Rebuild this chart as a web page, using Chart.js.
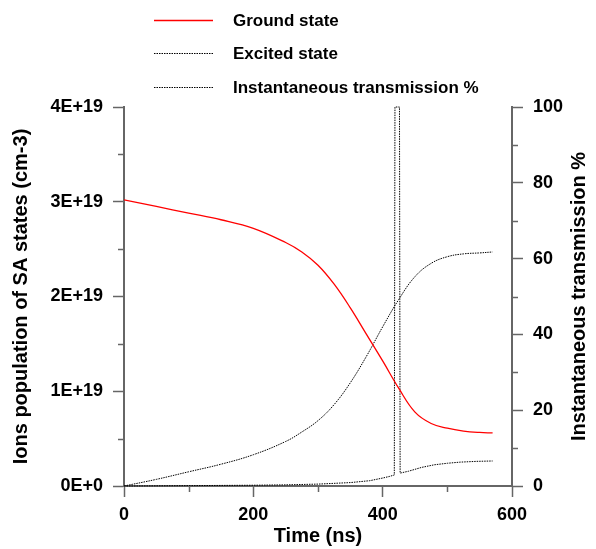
<!DOCTYPE html>
<html>
<head>
<meta charset="utf-8">
<script src="https://cdn.jsdelivr.net/npm/chart.js@4"></script>
<style>
html,body{margin:0;padding:0;background:#fff;}
#c{display:block;}
</style>
</head>
<body>
<canvas id="c" width="596" height="549"></canvas>
<script>
// ---- data ----
const timeNs = [0, 50, 100, 150, 200, 250, 275, 300, 325, 350, 375, 400, 425, 450, 475, 500, 525, 550, 570];
const groundState = [3.02e19, 2.95e19, 2.88e19, 2.81e19, 2.72e19, 2.57e19, 2.47e19, 2.33e19, 2.13e19, 1.88e19, 1.60e19, 1.32e19, 1.03e19, 0.78e19, 0.66e19, 0.61e19, 0.58e19, 0.565e19, 0.56e19];
const excitedState = [0, 0.07e19, 0.15e19, 0.23e19, 0.33e19, 0.47e19, 0.57e19, 0.69e19, 0.86e19, 1.09e19, 1.37e19, 1.68e19, 1.97e19, 2.21e19, 2.35e19, 2.42e19, 2.45e19, 2.46e19, 2.47e19];
const transTimeNs = [0, 100, 200, 250, 300, 350, 380, 400, 410, 418, 419, 426, 427, 440, 460, 480, 500, 520, 545, 570];
const transmission = [0, 0.1, 0.2, 0.3, 0.5, 0.9, 1.4, 2.1, 2.5, 2.9, 100, 100, 3.4, 3.9, 4.9, 5.6, 6.0, 6.3, 6.5, 6.6];
const xTicks = [0, 200, 400, 600];
const leftTickLabels = ['0E+0', '1E+19', '2E+19', '3E+19', '4E+19'];
const rightTicks = [0, 20, 40, 60, 80, 100];
const seriesNames = ['Ground state', 'Excited state', 'Instantaneous transmission %'];
const rightTitle = 'Instantaneous transmission %';

const AXIS = '#666666';
const FONT = 'Liberation Sans, Arial, sans-serif';

const pts = (xs, ys) => xs.map((x, i) => ({x, y: ys[i]}));

const legendPlugin = {
  id: 'vlegend',
  afterDraw(chart) {
    const ctx = chart.ctx;
    const rows = [20, 53, 87];
    chart.data.datasets.forEach((ds, i) => {
      const y = rows[i];
      ctx.save();
      ctx.strokeStyle = ds.borderColor;
      ctx.lineWidth = ds.borderWidth;
      ctx.setLineDash(ds.borderDash || []);
      ctx.beginPath();
      ctx.moveTo(154, y + 0.5);
      ctx.lineTo(213, y + 0.5);
      ctx.stroke();
      ctx.setLineDash([]);
      ctx.fillStyle = '#000';
      ctx.font = 'bold 17px ' + FONT;
      ctx.textBaseline = 'middle';
      ctx.textAlign = 'left';
      ctx.fillText(ds.label, 233, y + 1);
      ctx.restore();
    });
  }
};

const extrasPlugin = {
  id: 'extras',
  afterDraw(chart) {
    const ctx = chart.ctx;
    ctx.save();
    ctx.strokeStyle = AXIS;
    ctx.lineWidth = 1.5;
    const xs = chart.scales.x;
    [100, 300, 500].forEach(v => {
      const p = Math.round(xs.getPixelForValue(v)) + 0.5;
      ctx.beginPath(); ctx.moveTo(p, xs.top); ctx.lineTo(p, xs.top + 6); ctx.stroke();
    });
    const ys = chart.scales.y;
    [0.5e19, 1.5e19, 2.5e19, 3.5e19].forEach(v => {
      const p = Math.round(ys.getPixelForValue(v)) + 0.5;
      ctx.beginPath(); ctx.moveTo(ys.right, p); ctx.lineTo(ys.right - 6, p); ctx.stroke();
    });
    const y2 = chart.scales.y2;
    [10, 30, 50, 70, 90].forEach(v => {
      const p = Math.round(y2.getPixelForValue(v)) + 0.5;
      ctx.beginPath(); ctx.moveTo(y2.left, p); ctx.lineTo(y2.left + 6, p); ctx.stroke();
    });
    // right axis title, reading bottom-to-top like the reference
    const ca = chart.chartArea;
    ctx.translate(585, (ca.top + ca.bottom) / 2);
    ctx.rotate(-Math.PI / 2);
    ctx.fillStyle = '#000';
    ctx.font = 'bold 20px ' + FONT;
    ctx.textAlign = 'center';
    ctx.textBaseline = 'alphabetic';
    ctx.fillText(rightTitle, 0, 0);
    ctx.restore();
  }
};

const tickFont = {family: FONT, weight: 'bold', size: 18};
const titleFont = {family: FONT, weight: 'bold', size: 20};

new Chart(document.getElementById('c'), {
  type: 'line',
  data: {
    datasets: [
      {label: seriesNames[0], data: pts(timeNs, groundState), yAxisID: 'y', borderColor: '#ff0000', borderWidth: 1.3, pointRadius: 0, tension: 0.4, fill: false},
      {label: seriesNames[1], data: pts(timeNs, excitedState), yAxisID: 'y', borderColor: '#000000', borderWidth: 1, borderDash: [1.5, 1], pointRadius: 0, tension: 0.4, fill: false},
      {label: seriesNames[2], data: pts(transTimeNs, transmission), yAxisID: 'y2', borderColor: '#000000', borderWidth: 1, borderDash: [1.5, 1], pointRadius: 0, tension: 0, fill: false, clip: 4}
    ]
  },
  options: {
    responsive: false,
    animation: false,
    events: [],
    layout: {padding: {top: 107, left: 0, right: 0, bottom: 0}},
    plugins: {legend: {display: false}, tooltip: {enabled: false}},
    scales: {
      x: {
        type: 'linear', min: 0, max: 600,
        afterFit: s => { s.height = 63; },
        border: {display: true, color: AXIS, width: 2},
        grid: {drawOnChartArea: false, drawTicks: true, tickLength: 11, tickWidth: 1.5, tickColor: AXIS},
        afterBuildTicks: s => { s.ticks = xTicks.map(v => ({value: v})); },
        ticks: {autoSkip: false, maxRotation: 0, padding: 7, color: '#000', font: tickFont, callback: v => String(v)},
        title: {display: true, text: 'Time (ns)', color: '#000', font: titleFont, padding: {top: 0, bottom: 1}}
      },
      y: {
        type: 'linear', position: 'left', min: 0, max: 4e19,
        afterFit: s => { s.width = 124; },
        border: {display: true, color: AXIS, width: 2},
        grid: {drawOnChartArea: false, drawTicks: true, tickLength: 11, tickWidth: 1.5, tickColor: AXIS},
        afterBuildTicks: s => { s.ticks = leftTickLabels.map((t, i) => ({value: i * 1e19})); },
        ticks: {autoSkip: false, padding: 10, color: '#000', font: tickFont, callback: (v, i) => leftTickLabels[i]},
        title: {display: true, text: 'Ions population of SA states (cm-3)', color: '#000', font: titleFont, padding: {top: 9, bottom: 0}}
      },
      y2: {
        type: 'linear', position: 'right', min: 0, max: 100,
        afterFit: s => { s.width = 84; },
        border: {display: true, color: AXIS, width: 2},
        grid: {drawOnChartArea: false, drawTicks: true, tickLength: 11, tickWidth: 1.5, tickColor: AXIS},
        afterBuildTicks: s => { s.ticks = rightTicks.map(v => ({value: v})); },
        ticks: {autoSkip: false, padding: 10, color: '#000', font: tickFont, callback: v => String(v)},
        title: {display: false}
      }
    }
  },
  plugins: [legendPlugin, extrasPlugin]
});
</script>
</body>
</html>
